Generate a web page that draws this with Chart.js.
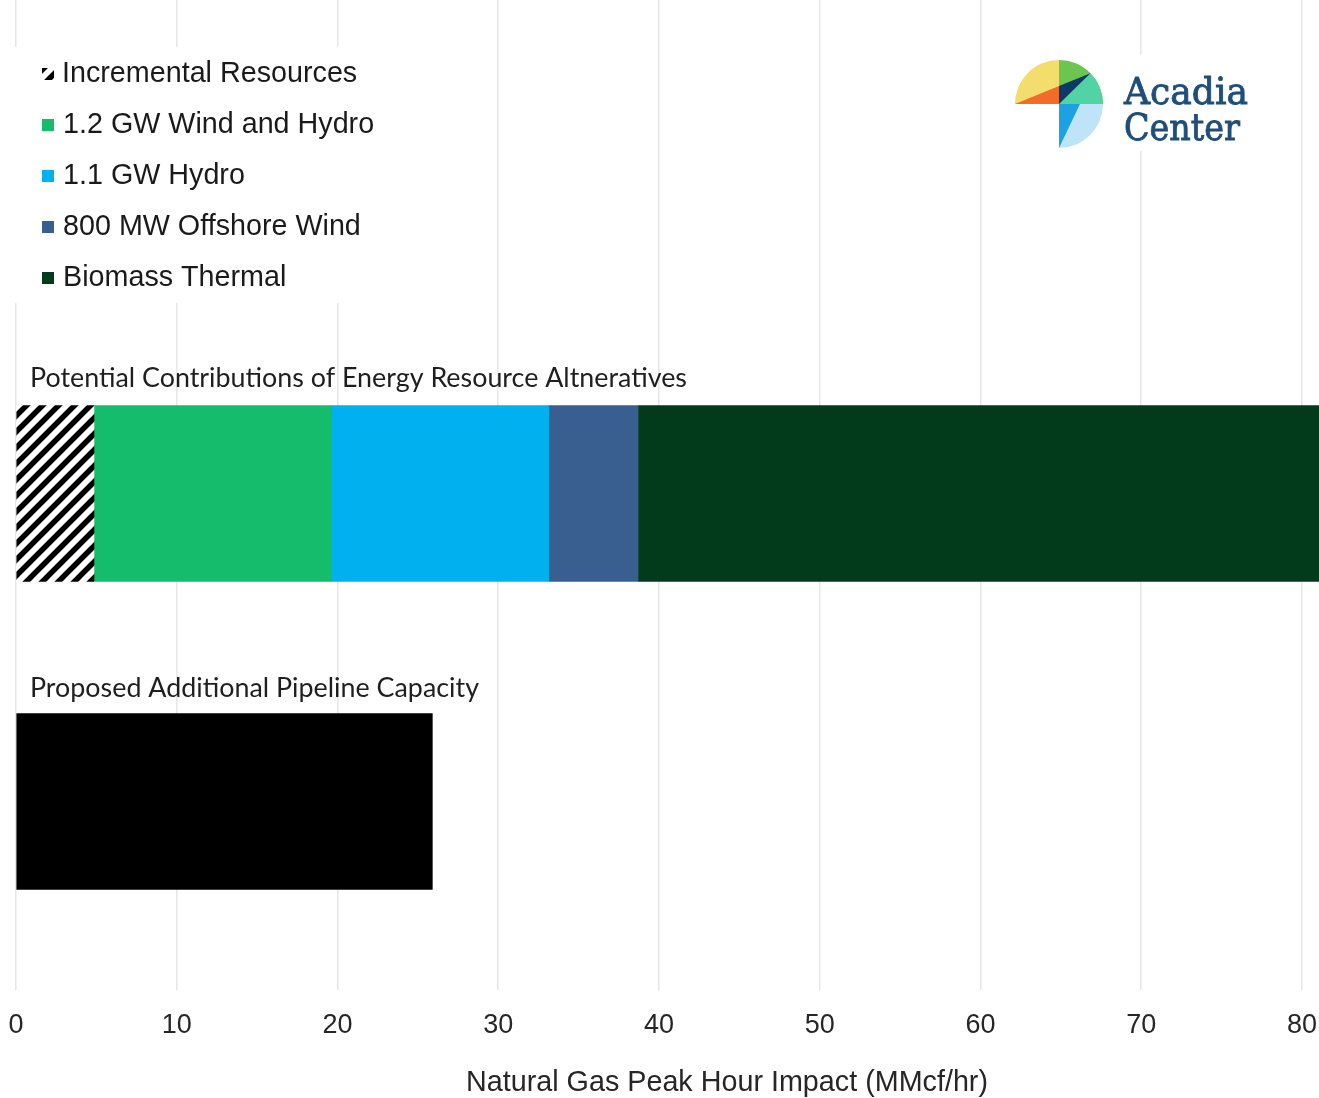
<!DOCTYPE html>
<html lang="en">
  <head>
    <meta charset="UTF-8" />
    <title>Natural Gas Peak Hour Impact</title>
    <script src="https://cdn.jsdelivr.net/npm/chart.js@4"></script>
    <style>
      html, body { margin: 0; padding: 0; background: #ffffff; }
      canvas { display: block; }
    </style>
  </head>
  <body>
    <canvas id="impactChart" width="1319" height="1098"></canvas>

    <script>
      // rows of the chart, top to bottom
      const rowLabels = [
        "Potential Contributions of Energy Resource Altneratives",
        "Proposed Additional Pipeline Capacity"
      ];

      // MMcf/hr per resource, one value per row
      const incremental = [4.85, null];
      const windHydro = [14.75, null];
      const hydro = [13.55, null];
      const offshoreWind = [5.55, null];
      const biomassThermal = [45, null];
      const pipeline = [null, 25.9];

      const seriesNames = [
        "Incremental Resources",
        "1.2 GW Wind and Hydro",
        "1.1 GW Hydro",
        "800 MW Offshore Wind",
        "Biomass Thermal",
        "Proposed Additional Pipeline Capacity"
      ];

      const xMax = 81.06;
      const xStep = 10;
      const axisTitle = "Natural Gas Peak Hour Impact (MMcf/hr)";

      // diagonal hatch for the incremental resources
      function hatchPattern(ctx) {
        const tile = document.createElement("canvas");
        tile.width = 16;
        tile.height = 16;
        const t = tile.getContext("2d");
        t.fillStyle = "#ffffff";
        t.fillRect(0, 0, 16, 16);
        t.strokeStyle = "#000000";
        t.lineWidth = 5.5;
        t.beginPath();
        t.moveTo(-4, 20); t.lineTo(20, -4);
        t.moveTo(-12, 12); t.lineTo(12, -12);
        t.moveTo(4, 28); t.lineTo(28, 4);
        t.stroke();
        return ctx.createPattern(tile, "repeat");
      }

      const canvas = document.getElementById("impactChart");
      const ctx = canvas.getContext("2d");
      const hatch = hatchPattern(ctx);

      const colors = [hatch, "#14bc6c", "#00b0ef", "#385f8f", "#023a1c", "#000000"];
      const values = [incremental, windHydro, hydro, offshoreWind, biomassThermal, pipeline];

      const datasets = values.map((vals, k) => ({
        label: seriesNames[k],
        data: vals.map((v, i) => ({ x: v, y: i })),
        backgroundColor: colors[k],
        borderWidth: 0,
        barThickness: 176
      }));

      // draw text squeezed/stretched horizontally
      function fitText(c, text, x, y, scaleX) {
        c.save();
        c.translate(x, y);
        c.scale(scaleX, 1);
        c.fillText(text, 0, 0);
        c.restore();
      }

      const overlay = {
        id: "overlay",
        afterDraw(chart) {
          const c = chart.ctx;
          const yScale = chart.scales.y;

          // row titles above each bar
          c.save();
          c.fillStyle = "#1f1f1f";
          c.font = "27px Lato";
          c.textBaseline = "middle";
          const rowWidths = [657, 449];
          rowLabels.forEach((label, i) => {
            const y = yScale.getPixelForValue(i) - 115 + i * 2;
            const w = c.measureText(label).width;
            fitText(c, label, 30, y, rowWidths[i] / w);
          });
          c.restore();

          // axis title, centred a little right of the plot middle
          c.save();
          c.fillStyle = "#262626";
          c.font = "28.7px 'Liberation Sans'";
          c.textBaseline = "middle";
          const tw = c.measureText(axisTitle).width;
          fitText(c, axisTitle, 466, 1083, 522 / tw);
          c.restore();

          // legend block
          c.save();
          c.fillStyle = "#ffffff";
          c.fillRect(8, 47, 412, 256);
          c.font = "30px 'Liberation Sans'";
          c.textBaseline = "middle";
          seriesNames.slice(0, 5).forEach((name, k) => {
            const y = 74 + k * 51;
            c.fillStyle = colors[k];
            c.fillRect(42, y - 6, 12, 12);
            c.fillStyle = "#1a1a1a";
            fitText(c, name, k === 0 ? 62 : 63, y, 0.957);
          });
          c.restore();

          // logo
          const cx = 1059, cy = 104, r = 44;
          c.save();
          c.fillStyle = "#ffffff";
          c.fillRect(1000, 55, 262, 96);

          function sector(a0, a1, col) {
            c.beginPath();
            c.moveTo(cx, cy);
            c.arc(cx, cy, r, a0, a1);
            c.closePath();
            c.fillStyle = col;
            c.fill();
          }
          function poly(pts, col) {
            c.beginPath();
            c.moveTo(pts[0][0], pts[0][1]);
            pts.slice(1).forEach((p) => c.lineTo(p[0], p[1]));
            c.closePath();
            c.fillStyle = col;
            c.fill();
          }
          const px = cx + 31.4, py = cy - 30.8;
          const aP = Math.atan2(py - cy, px - cx);
          sector(Math.PI, Math.PI * 1.5, "#f3dd6d");
          poly([[cx - r, cy], [cx, cy], [cx, cy - 18]], "#f26b2a");
          sector(Math.PI * 1.5, Math.PI * 2, "#6cc551");
          sector(aP, 0, "#52d3a3");
          poly([[cx, cy - 18], [px, py], [cx, cy]], "#0c3a68");
          sector(0, Math.PI / 2, "#bfe4f7");
          poly([[cx, cy], [cx + 21, cy], [cx, cy + r]], "#1ca1e2");

          c.fillStyle = "#1f4e7a";
          c.strokeStyle = "#1f4e7a";
          c.lineWidth = 0.9;
          c.font = "38px 'DejaVu Serif'";
          c.textBaseline = "alphabetic";
          [["Acadia", 104, 124], ["Center", 140, 116]].forEach(([word, base, width]) => {
            const s = width / c.measureText(word).width;
            c.save();
            c.translate(1124, base);
            c.scale(s, 1);
            c.fillText(word, 0, 0);
            c.strokeText(word, 0, 0);
            c.restore();
          });
          c.restore();
        }
      };

      new Chart(ctx, {
        type: "bar",
        data: { datasets: datasets },
        options: {
          indexAxis: "y",
          responsive: false,
          animation: false,
          devicePixelRatio: 1,
          layout: { padding: { left: 16, right: 0, top: 0, bottom: 0 } },
          plugins: {
            legend: { display: false },
            tooltip: { enabled: false }
          },
          scales: {
            x: {
              type: "linear",
              bounds: "data",
              min: 0,
              max: xMax,
              stacked: true,
              border: { display: false },
              grid: { color: "#e6e6e6", lineWidth: 1.5, drawTicks: false },
              ticks: {
                stepSize: xStep,
                includeBounds: false,
                padding: 19,
                color: "#262626",
                font: { family: "'Liberation Sans'", size: 27 }
              },
              afterFit(scale) {
                scale.paddingLeft = 0;
                scale.paddingRight = 0;
                scale.height = 108;
              }
            },
            y: {
              type: "linear",
              bounds: "data",
              display: false,
              offset: false,
              reverse: true,
              stacked: true,
              min: -1.602,
              max: 1.612
            }
          }
        },
        plugins: [overlay]
      });
    </script>
  </body>
</html>
